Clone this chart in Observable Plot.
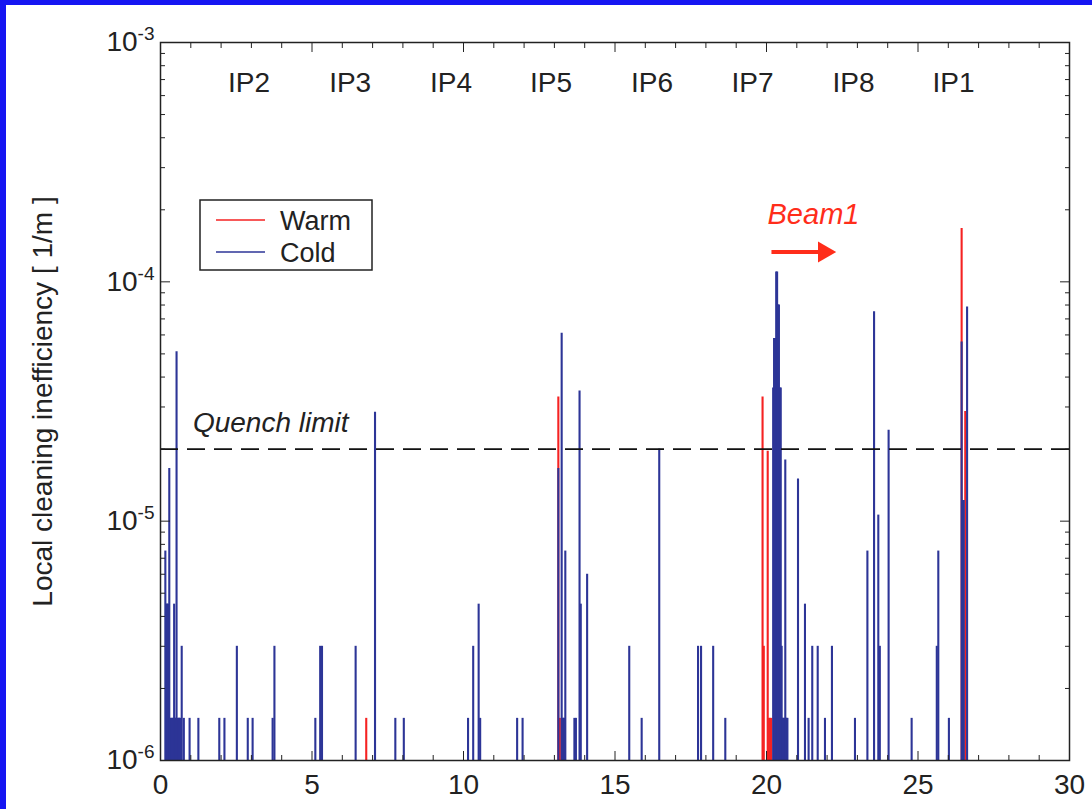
<!DOCTYPE html>
<html><head><meta charset="utf-8">
<script src="https://cdn.jsdelivr.net/npm/d3@7"></script>
<script src="https://cdn.jsdelivr.net/npm/@observablehq/plot@0.6"></script>
<style>
body{margin:0;background:#fff;}
#wrap{position:relative;width:1092px;height:809px;overflow:hidden;background:#fff;}
.bl{position:absolute;background:#1515f2;}
</style></head><body>
<div id="wrap"><div id="chart"></div>
<div class="bl" style="left:0;top:0;width:6px;height:809px"></div>
<div class="bl" style="left:0;top:0;width:1092px;height:5px"></div></div>
<script>
// ---- data ----
const coldPos = [0.16,0.19,0.22,0.25,0.29,0.32,0.35,0.38,0.41,0.43,0.45,0.47,0.49,0.51,0.53,0.56,0.59,0.61,0.63,0.65,0.70,0.77,0.96,1.25,1.94,2.11,2.52,2.88,3.04,3.70,3.76,5.11,5.27,5.33,6.44,7.08,7.75,8.03,10.15,10.32,10.50,10.55,11.77,11.95,13.13,13.24,13.28,13.30,13.32,13.36,13.66,13.71,13.83,13.87,14.08,15.47,15.88,16.46,17.74,17.84,18.24,18.64,20.22,20.25,20.28,20.32,20.35,20.38,20.41,20.44,20.47,20.50,20.52,20.54,20.57,20.60,20.62,20.64,20.66,20.69,21.04,21.27,21.39,21.51,21.69,21.93,22.16,22.92,23.33,23.55,23.69,23.74,24.03,24.79,25.62,25.67,26.02,26.44,26.48,26.51,26.62];
const coldVal = [7.5e-6,4.5e-6,4.5e-6,4.5e-6,1.66e-5,1.5e-6,1.5e-6,1.5e-6,1.5e-6,1.5e-6,4.5e-6,1.5e-6,1.5e-6,1.5e-6,5.1e-5,1.5e-6,1.5e-6,1.5e-6,1.5e-6,1.5e-6,3e-6,1.5e-6,1.5e-6,1.5e-6,1.5e-6,1.5e-6,3e-6,1.5e-6,1.5e-6,1.5e-6,3e-6,1.5e-6,3e-6,3e-6,3e-6,2.85e-5,1.5e-6,1.5e-6,1.5e-6,3e-6,4.5e-6,1.5e-6,1.5e-6,1.5e-6,1.66e-5,6.1e-5,1.5e-6,1.5e-6,1.5e-6,7.5e-6,1.5e-6,1.5e-6,3.5e-5,4.5e-6,6e-6,3e-6,1.5e-6,2e-5,3e-6,3e-6,3e-6,1.5e-6,3.6e-5,5.8e-5,5.8e-5,1.1e-4,1.1e-4,8e-5,8e-5,3.6e-5,3.6e-5,3e-6,1.5e-6,1.5e-6,1.5e-6,1.5e-6,1.8e-5,1.5e-6,1.5e-6,1.5e-6,1.5e-5,4.5e-6,1.5e-6,3e-6,3e-6,1.5e-6,3e-6,1.5e-6,7.5e-6,7.5e-5,1.06e-5,3e-6,2.4e-5,1.5e-6,3e-6,7.5e-6,1.5e-6,5.6e-5,1.22e-5,1.22e-5,7.85e-5];
const warmPos = [6.79,13.13,13.18,19.87,19.91,20.04,20.08,20.12,20.16,26.44,26.56];
const warmVal = [1.5e-6,3.3e-5,1.5e-6,3.3e-5,3e-6,1.96e-5,1.5e-6,1.5e-6,1.5e-6,1.67e-4,2.87e-5];
const ipLabels = ["IP2","IP3","IP4","IP5","IP6","IP7","IP8","IP1"];
const ipPos = [2.92,6.26,9.59,12.89,16.22,19.54,22.87,26.17];
const quenchLimit = 2e-5;
const quenchLabel = ["Quench limit"];
const quenchLabelX = 1.07;
const beamLabel = ["Beam1"];
const beamLabelX = 21.55;
const beamArrowX = [20.18, 21.72];
const beamHeadX = 21.9;
const beamArrowY = 1.332e-4;
const legendLabels = ["Warm","Cold"];
const xTicks = [0,5,10,15,20,25,30];
const xMajor = [5,10,15,20,25];
const xMinor = d3.range(1,30).filter(d => d % 5 !== 0);
const yTicks = [1e-6,1e-5,1e-4,1e-3];
const yMajor = [1e-5,1e-4];
const yMinor = [-6,-5,-4].flatMap(e => d3.range(2,10).map(m => m * Math.pow(10,e)));
const yLabel = "Local cleaning inefficiency [ 1/m ]";

const warmColor = "#f52222", coldColor = "#2d3597", textRed = "#ff2d1a", ink = "#222";
const cold = coldPos.map((p,i) => ({pos:p, val:coldVal[i]}));
const warm = warmPos.map((p,i) => ({pos:p, val:warmVal[i]}));
const font = "'Liberation Sans', Arial, Helvetica, sans-serif";

const chart = Plot.plot({
  width: 1092, height: 809,
  marginLeft: 160, marginRight: 23, marginTop: 42, marginBottom: 49,
  style: {fontFamily: font, fontSize: "26px", color: ink, background: "transparent", overflow: "visible"},
  x: {domain: [0,30]},
  y: {type: "log", domain: [1e-6,1e-3]},
  marks: [
    Plot.ruleX(warm, {x:"pos", y1: 1e-6, y2:"val", stroke: warmColor, strokeWidth: 2.1}),
    Plot.ruleX(cold, {x:"pos", y1: 1e-6, y2:"val", stroke: coldColor, strokeWidth: 2.1}),
    Plot.ruleY([quenchLimit], {stroke:"#111", strokeWidth:1.6, strokeDasharray:"18,9"}),
    Plot.frame({stroke: ink, strokeWidth: 1.5}),
    Plot.axisX({ticks: xTicks, tickSize: 0, tickPadding: 14, label: null}),
    Plot.axisX({ticks: xMajor, tickSize: -9, tickFormat: () => "", label: null}),
    Plot.axisX({ticks: xMinor, tickSize: -5, tickFormat: () => "", label: null}),
    Plot.axisX({anchor:"top", ticks: xMajor, tickSize: -9, tickFormat: () => "", label: null}),
    Plot.axisX({anchor:"top", ticks: xMinor, tickSize: -5, tickFormat: () => "", label: null}),
    Plot.axisY({ticks: yTicks, tickSize: 0, tickPadding: 6, label: null,
      tickFormat: d => "10^" + Math.round(Math.log10(d))}),
    Plot.axisY({ticks: yMajor, tickSize: -10, tickFormat: () => "", label: null}),
    Plot.axisY({ticks: yMinor, tickSize: -5, tickFormat: () => "", label: null}),
    Plot.axisY({anchor:"right", ticks: yMajor, tickSize: -10, tickFormat: () => "", label: null}),
    Plot.axisY({anchor:"right", ticks: yMinor, tickSize: -5, tickFormat: () => "", label: null}),
    Plot.text([yLabel], {frameAnchor:"left", rotate:-90, dx:-117, fontSize:28, fill:ink, textAnchor:"middle", lineAnchor:"middle"}),
    Plot.text(ipLabels, {x: (d,i) => ipPos[i], frameAnchor:"top", dy: 41, fontSize: 28, fill: ink, lineAnchor:"middle"}),
    Plot.text(quenchLabel, {x: () => quenchLabelX, y: () => quenchLimit, dy: -26, textAnchor:"start", fontStyle:"italic", fontSize: 28, fill: ink, lineAnchor:"middle"}),
    Plot.text(beamLabel, {x: () => beamLabelX, frameAnchor:"top", dy: 172, fontStyle:"italic", fontSize: 29, fill: textRed, lineAnchor:"middle"}),
    Plot.ruleY([beamArrowY], {x1: beamArrowX[0], x2: beamArrowX[1], stroke: textRed, strokeWidth: 4}),
    Plot.dot([beamArrowY], {x: () => beamHeadX, y: d => d, symbol:"triangle", rotate: 90, r: 7.8, fill: textRed, stroke: "none"})
  ]
});
document.getElementById("chart").appendChild(chart);

// tick label sizes
d3.select(chart).selectAll('g[aria-label="x-axis tick label"] text').attr("font-size", 28);
// superscript exponents on y tick labels
d3.select(chart).selectAll('g[aria-label="y-axis tick label"] text').each(function() {
  const t = this.textContent;
  const sel = d3.select(this).attr("font-size", 28);
  if (t.includes("^")) {
    const [b, e] = t.split("^");
    sel.text(b);
    sel.append("tspan").attr("dy", -11).attr("font-size", 19).text(e);
  }
});

// legend box
const svg = d3.select(chart);
const lg = svg.append("g").attr("font-family", font).attr("font-size", 27).attr("fill", ink).attr("text-anchor", "start");
lg.append("rect").attr("x", 200).attr("y", 200).attr("width", 172).attr("height", 70)
  .attr("fill", "#fff").attr("stroke", ink).attr("stroke-width", 1.5);
[warmColor, coldColor].forEach((c, i) => {
  const yy = 220 + i * 32;
  lg.append("line").attr("x1", 216).attr("x2", 265).attr("y1", yy).attr("y2", yy).attr("stroke", c).attr("stroke-width", 1.6);
  lg.append("text").attr("x", 280).attr("y", yy).attr("dy", "0.36em").attr("text-anchor", "start").text(legendLabels[i]);
});
</script>
</body></html>
